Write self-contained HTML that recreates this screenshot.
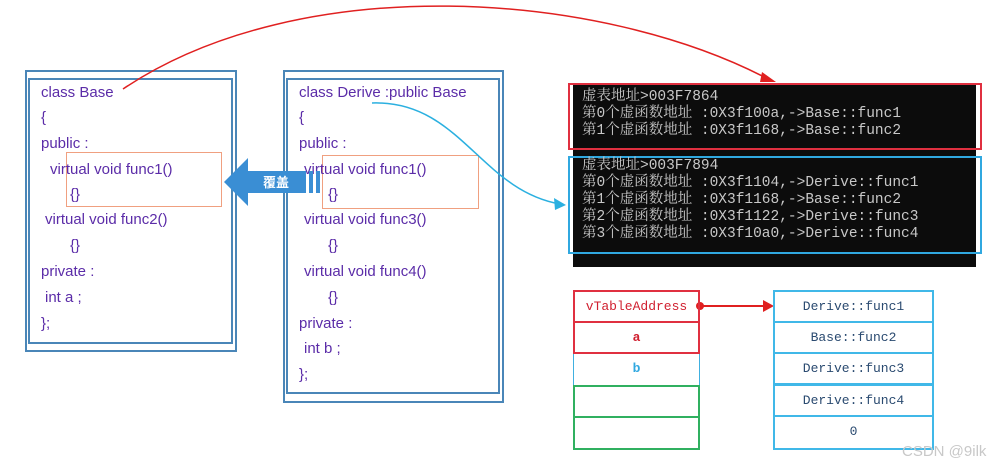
<!DOCTYPE html>
<html><head><meta charset="utf-8"><style>
body{margin:0;width:1008px;height:471px;background:#fff;position:relative;overflow:hidden;font-family:"Liberation Sans","Noto Sans CJK SC",sans-serif}
.b{position:absolute;box-sizing:border-box}
.t{position:absolute;color:#5b2ca8;font-size:15px;white-space:nowrap;line-height:18px}
.con{position:absolute;color:#c8c8c8;font-family:"Liberation Mono","Noto Serif CJK SC",monospace;font-size:14.5px;line-height:17px;white-space:pre;left:582px}
.cell{position:absolute;box-sizing:border-box;font-family:"Liberation Mono","Noto Serif CJK SC",monospace;font-size:13px;text-align:center;line-height:30px}
</style></head><body>
<div class="b" style="left:25px;top:70px;width:212px;height:282px;border:2px solid #4a86b8"></div>
<div class="b" style="left:28px;top:78px;width:205px;height:266px;border:2px solid #4a86b8"></div>
<div class="b" style="left:283px;top:70px;width:221px;height:333px;border:2px solid #4a86b8"></div>
<div class="b" style="left:286px;top:78px;width:214px;height:316px;border:2px solid #4a86b8"></div>
<div class="b" style="left:66px;top:152px;width:156px;height:55px;border:1.5px solid #f0a080"></div>
<div class="b" style="left:322px;top:155px;width:157px;height:54px;border:1.5px solid #f0a080"></div>

<div class="t" style="left:41px;top:84px">class Base</div>
<div class="t" style="left:41px;top:109px">{</div>
<div class="t" style="left:41px;top:135px">public :</div>
<div class="t" style="left:50px;top:161px">virtual void func1()</div>
<div class="t" style="left:70px;top:186px">{}</div>
<div class="t" style="left:45px;top:211px">virtual void func2()</div>
<div class="t" style="left:70px;top:237px">{}</div>
<div class="t" style="left:41px;top:263px">private :</div>
<div class="t" style="left:45px;top:289px">int a ;</div>
<div class="t" style="left:41px;top:315px">};</div>

<div class="t" style="left:299px;top:84px">class Derive :public Base</div>
<div class="t" style="left:299px;top:109px">{</div>
<div class="t" style="left:299px;top:135px">public :</div>
<div class="t" style="left:304px;top:161px">virtual void func1()</div>
<div class="t" style="left:328px;top:186px">{}</div>
<div class="t" style="left:304px;top:211px">virtual void func3()</div>
<div class="t" style="left:328px;top:237px">{}</div>
<div class="t" style="left:304px;top:263px">virtual void func4()</div>
<div class="t" style="left:328px;top:289px">{}</div>
<div class="t" style="left:299px;top:315px">private :</div>
<div class="t" style="left:304px;top:340px">int b ;</div>
<div class="t" style="left:299px;top:366px">};</div>

<svg style="position:absolute;left:0;top:0" width="1008" height="471">
<polygon points="224,182 248,158 248,171 306,171 306,193 248,193 248,206" fill="#3a8ed4"/>
<rect x="309" y="171" width="4" height="22" fill="#3a8ed4"/>
<rect x="316" y="171" width="4" height="22" fill="#3a8ed4"/>
<text x="276" y="187" fill="#fff" font-size="13" font-weight="bold" text-anchor="middle" font-family="Noto Sans CJK SC,sans-serif">覆盖</text>
<path d="M123,89 C300,-30 600,-10 770,80" fill="none" stroke="#e02020" stroke-width="1.5"/>
<polygon points="776,82 762,72 760,82" fill="#e02020"/>
<path d="M372,103 C460,100 480,190 560,204" fill="none" stroke="#2bb0e0" stroke-width="1.5"/>
<polygon points="566,205 554,198 555,210" fill="#2bb0e0"/>
<line x1="700" y1="306" x2="765" y2="306" stroke="#e02020" stroke-width="2"/>
<circle cx="700" cy="306" r="4" fill="#e02020"/>
<polygon points="774,306 763,300 763,312" fill="#e02020"/>
</svg>

<div class="b" style="left:573px;top:85px;width:403px;height:182px;background:#0c0c0c"></div>
<div class="b" style="left:568px;top:83px;width:414px;height:67px;border:2px solid #e03040"></div>
<div class="b" style="left:568px;top:156px;width:414px;height:98px;border:2px solid #30a8e0"></div>
<div class="con" style="top:89px">虚表地址>003F7864
第0个虚函数地址 :0X3f100a,->Base::func1
第1个虚函数地址 :0X3f1168,->Base::func2</div>
<div class="con" style="top:158px">虚表地址>003F7894
第0个虚函数地址 :0X3f1104,->Derive::func1
第1个虚函数地址 :0X3f1168,->Base::func2
第2个虚函数地址 :0X3f1122,->Derive::func3
第3个虚函数地址 :0X3f10a0,->Derive::func4</div>

<div class="cell" style="left:573px;top:290px;width:127px;height:33px;border:2px solid #e03040;color:#d02030">vTableAddress</div>
<div class="cell" style="left:573px;top:321px;width:127px;height:33px;border:2px solid #e03040;color:#d02030;font-weight:bold">a</div>
<div class="cell" style="left:573px;top:354px;width:127px;height:33px;border:1.5px solid #40b0e0;border-top:none;border-bottom:none;color:#30a8e0;font-weight:bold">b</div>
<div class="cell" style="left:573px;top:385px;width:127px;height:33px;border:2px solid #30b060"></div>
<div class="cell" style="left:573px;top:416px;width:127px;height:34px;border:2px solid #30b060;border-top:none"></div>

<div class="cell" style="left:773px;top:290px;width:161px;height:33px;border:2px solid #40b8e8;color:#2a4a70">Derive::func1</div>
<div class="cell" style="left:773px;top:321px;width:161px;height:33px;border:2px solid #40b8e8;color:#2a4a70">Base::func2</div>
<div class="cell" style="left:773px;top:352px;width:161px;height:33px;border:2px solid #40b8e8;color:#2a4a70">Derive::func3</div>
<div class="cell" style="left:773px;top:384px;width:161px;height:33px;border:2px solid #40b8e8;color:#2a4a70">Derive::func4</div>
<div class="cell" style="left:773px;top:415px;width:161px;height:35px;border:2px solid #40b8e8;color:#2a4a70">0</div>
<div style="position:absolute;left:902px;top:443px;color:#c8c8c8;font-size:15px">CSDN @9ilk</div>
</body></html>
